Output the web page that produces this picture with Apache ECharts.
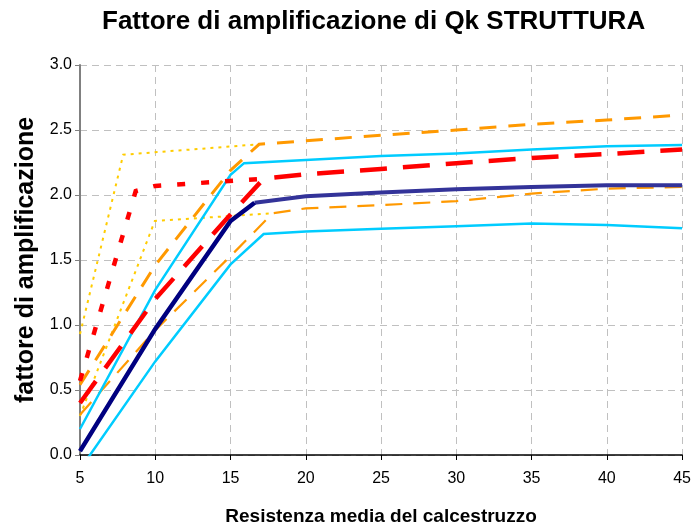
<!DOCTYPE html>
<html>
<head>
<meta charset="utf-8">
<script src="https://cdn.jsdelivr.net/npm/echarts@6/dist/echarts.min.js"></script>
<style>
html,body{margin:0;padding:0;background:#fff;}
#chart{width:694px;height:531px;}
</style>
</head>
<body>
<div id="chart"></div>
<script>
// ---- data (x = resistenza media, y = fattore di amplificazione) ----
var xTicks = [5, 10, 15, 20, 25, 30, 35, 40, 45];
var yTicks = [0.0, 0.5, 1.0, 1.5, 2.0, 2.5, 3.0];

var centralLow   = [[5, 0.03], [10, 0.97], [15, 1.80], [16.6, 1.94]];
var centralHigh  = [[16.6, 1.94], [20, 1.99], [25, 2.02], [30, 2.045], [35, 2.062], [40, 2.075], [45, 2.075]];
var cyanUpper    = [[5, 0.20], [10, 1.27], [15, 2.155], [15.9, 2.245], [20, 2.27], [25, 2.30], [30, 2.32], [35, 2.35], [40, 2.375], [45, 2.385]];
var cyanLower    = [[5, -0.11], [10, 0.72], [15, 1.466], [17.2, 1.70], [20, 1.72], [25, 1.74], [30, 1.76], [35, 1.78], [40, 1.77], [45, 1.745]];
var redDashed    = [[5, 0.40], [10, 1.20], [15, 1.85], [17.2, 2.125], [20, 2.16], [25, 2.20], [30, 2.245], [35, 2.285], [40, 2.315], [45, 2.35]];
var redDotted    = [[5, 0.57], [8.7, 2.03], [10, 2.07], [17.2, 2.125]];
var orangeUpper  = [[5, 0.54], [10, 1.46], [15, 2.19], [16.9, 2.39], [20, 2.417], [25, 2.46], [30, 2.50], [35, 2.544], [40, 2.577], [45, 2.615]];
var orangeLower  = [[5, 0.31], [10, 0.96], [15, 1.53], [17.8, 1.86], [20, 1.897], [25, 1.922], [30, 1.953], [35, 2.011], [40, 2.049], [45, 2.062]];
var yellowUpper  = [[5, 0.93], [7.87, 2.31], [16.9, 2.39]];
var yellowLower  = [[5, 0.30], [9.97, 1.80], [17.8, 1.86]];

var chart = echarts.init(document.getElementById('chart'), null, {renderer: 'canvas'});

function ser(data, color, width, type, z) {
  return {
    type: 'line', data: data, symbol: 'none', z: z || 2,
    lineStyle: {color: color, width: width, type: type, cap: 'butt', join: 'miter'},
    emphasis: {disabled: true}, animation: false
  };
}

var FONT = 'Liberation Sans, Arial, sans-serif';

chart.setOption({
  backgroundColor: '#ffffff',
  animation: false,
  title: {
    text: 'Fattore di amplificazione di Qk STRUTTURA',
    left: 97, top: 4,
    textStyle: {fontFamily: FONT, fontSize: 26, fontWeight: 'bold', color: '#000'}
  },
  grid: {left: 80, right: 11, top: 65, bottom: 72, containLabel: false},
  xAxis: {
    type: 'value', min: xTicks[0], max: xTicks[xTicks.length - 1], interval: 5,
    name: 'Resistenza media del calcestruzzo', nameLocation: 'middle', nameGap: 52,
    nameTextStyle: {fontFamily: FONT, fontSize: 19, fontWeight: 'bold', color: '#000'},
    axisLine: {show: true, onZero: false, lineStyle: {color: '#000', width: 1.5}},
    axisTick: {show: true, inside: false, length: 5, lineStyle: {color: '#000'}},
    axisLabel: {fontFamily: FONT, fontSize: 16, color: '#000', margin: 16},
    splitLine: {show: true, lineStyle: {color: '#c0c0c0', width: 1, type: [7, 5]}}
  },
  yAxis: {
    type: 'value', min: yTicks[0], max: yTicks[yTicks.length - 1], interval: 0.5,
    name: 'fattore di amplificazione', nameLocation: 'middle', nameGap: 33, nameRotate: 90,
    nameTextStyle: {fontFamily: FONT, fontSize: 25, fontWeight: 'bold', color: '#000'},
    axisLine: {show: true, lineStyle: {color: '#808080', width: 2}},
    axisTick: {show: true, inside: false, length: 5, lineStyle: {color: '#808080'}},
    axisLabel: {fontFamily: FONT, fontSize: 16, color: '#000', margin: 8,
      formatter: function (v) { return v.toFixed(1); }},
    splitLine: {show: true, lineStyle: {color: '#c0c0c0', width: 1, type: [7, 5]}}
  },
  series: [
    ser(yellowUpper, '#FFCC00', 2, [3, 5], 2),
    ser(yellowLower, '#FFCC00', 2, [3, 5], 2),
    ser(orangeLower, '#FF9900', 2.2, [17, 11], 3),
    ser(orangeUpper, '#FF9900', 3, [17, 12], 3),
    ser(cyanLower, '#00CCFF', 2.5, 'solid', 4),
    ser(cyanUpper, '#00CCFF', 2.5, 'solid', 4),
    ser(redDotted, '#FF0000', 4.5, [8, 16], 5),
    ser(redDashed, '#FF0000', 4.5, [27, 16], 5),
    ser(centralHigh, '#333399', 4, 'solid', 6),
    ser(centralLow, '#000080', 4.5, 'solid', 6)
  ]
});
</script>
</body>
</html>
